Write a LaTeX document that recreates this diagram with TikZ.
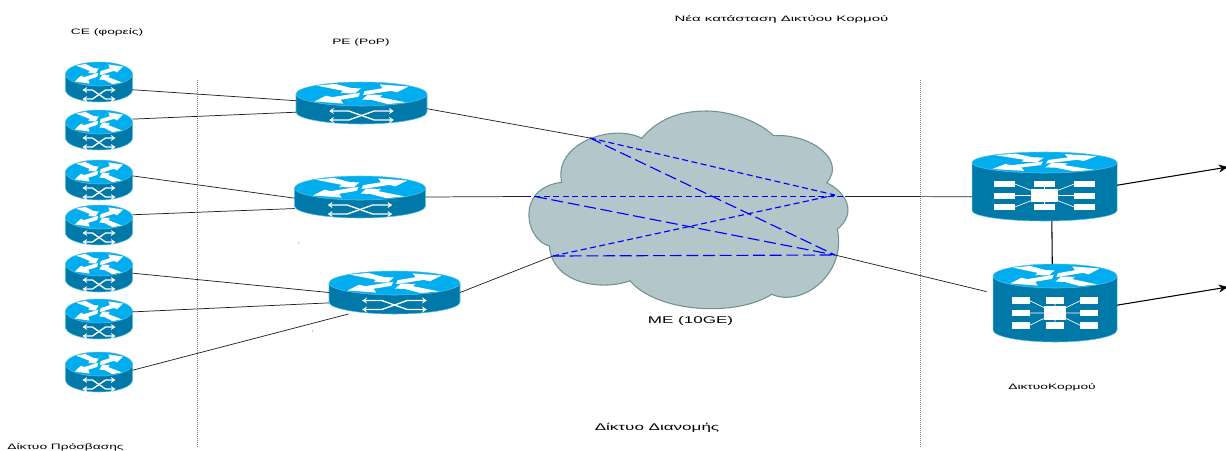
\documentclass[tikz,border=0pt]{standalone}
\usepackage{fontspec}
\setmainfont{Liberation Sans}
\usetikzlibrary{arrows.meta, positioning}
\definecolor{rtrtop}{HTML}{00AEEF}
\definecolor{rtrbody}{HTML}{0078A8}
\definecolor{rtredge}{HTML}{55BFE6}
\definecolor{nuage}{HTML}{B3C6CA}
\definecolor{nuagebord}{HTML}{6F9292}
\definecolor{lien}{HTML}{222222}
\definecolor{meshbleu}{HTML}{0000FF}

\tikzset{
  rtrbox/.style={inner sep=0pt, outer sep=0pt},
  lbl/.style={font=\fontsize{5.9pt}{7pt}\selectfont, text=black, inner sep=0pt, transform shape, xscale=1.75},
  lblgrand/.style={lbl, font=\fontsize{7.3pt}{9pt}\selectfont},
  access/.style={lien, line width=0.55pt},
  uplink/.style={black, line width=0.8pt, -{Stealth[length=7pt,width=6pt]}},
  meshcourt/.style={meshbleu, line width=0.85pt, dash pattern=on 4.5pt off 2.6pt},
  meshlong/.style={meshbleu, line width=0.85pt, dash pattern=on 9pt off 3.5pt},
  zone/.style={gray, line width=0.5pt, densely dotted},
  panneau/.style={white, line width=1pt, {Stealth[length=3.5pt,width=4.5pt]}-{Stealth[length=3.5pt,width=4.5pt]}},
}

% capot du routeur : ellipse + 4 fleches, #1,#2 centre, #3,#4 rayons
\newcommand{\rtrhead}[4]{
  \fill[rtrtop, draw=rtredge, line width=0.4pt] (#1,#2) ellipse [x radius=#3, y radius=#4];
  \begin{scope}[shift={(#1,#2)}, xscale=#3, yscale=-#4]
    \foreach \sg in {1,-1} {
      \begin{scope}[xscale=\sg, yscale=\sg]
        \fill[white] (-0.68,0.70) -- (-0.40,0.84) -- (-0.16,0.50) -- (-0.01,0.46) -- (-0.10,0.04)
          -- (-0.32,0.08) -- (-0.28,0.26) -- cycle;
        \fill[white] (-0.72,-0.62) -- (-0.54,-0.14) -- (-0.45,-0.26) -- (-0.02,0.10)
          -- (-0.05,-0.24) -- (-0.32,-0.48) -- (-0.28,-0.80) -- cycle;
      \end{scope}
    }
  \end{scope}
}

% routeur bas : #1 nom, #2 cx, #3 haut, #4 rayon x, #5 hauteur flanc
\newcommand{\edgerouter}[5]{
  \pgfmathsetmacro{\cy}{#3+12}
  \pgfmathsetmacro{\by}{\cy+#5}
  \node[rtrbox, minimum width={1.5pt*#4}, minimum height={0.75pt*(24+#5)}] (#1) at (#2,{\cy+#5/2}) {};
  \fill[rtrbody, draw=rtredge, line width=0.4pt] ({#2-#4},\cy) -- ({#2-#4},\by)
    arc[start angle=180, end angle=0, x radius=#4, y radius=12] -- ({#2+#4},\cy) -- cycle;
  \rtrhead{#2}{\cy}{#4}{12}
  \begin{scope}[shift={(#2,{\cy+#5/2+12.5})}, xscale=#4/33.5]
    \draw[panneau] (-16.5,-4.5) -- (-6.5,-4.5) -- (6.5,4.5) -- (16.5,4.5);
    \draw[panneau] (-16.5,4.5) -- (-6.5,4.5) -- (6.5,-4.5) -- (16.5,-4.5);
  \end{scope}
}

% routeur coeur : #1 nom, #2 cx, #3 haut, #4 rayon x, #5 rayon y, #6 flanc, #7 y panneau, #8 echelle y
\newcommand{\corerouter}[8]{
  \pgfmathsetmacro{\cy}{#3+#5}
  \pgfmathsetmacro{\by}{\cy+#6}
  \node[rtrbox, minimum width={1.5pt*#4}, minimum height={0.75pt*(2*#5+#6)}] (#1) at (#2,{\cy+#6/2}) {};
  \fill[rtrbody, draw=rtredge, line width=0.4pt] ({#2-#4},\cy) -- ({#2-#4},\by)
    arc[start angle=180, end angle=0, x radius=#4, y radius=#5] -- ({#2+#4},\cy) -- cycle;
  \rtrhead{#2}{\cy}{#4}{#5}
  \begin{scope}[shift={(#2,#7)}, xscale=#4/72.5, yscale=#8]
    \draw[white, line width=0.5pt] (-30,-11.6) -- (13,5) (-30,11.6) -- (13,-5) (30,-11.6) -- (-13,5) (30,11.6) -- (-13,-5)
      (-30,0) -- (30,0) (0,-11.6) -- (0,11.6);
    \fill[white] (-13.3,-6.3) rectangle (13.3,6.3);
    \foreach \yy in {-11.6,0,11.6} {
      \fill[white] (-50.3,{\yy-3}) rectangle (-29.7,{\yy+3});
      \fill[white] (29.7,{\yy-3}) rectangle (50.3,{\yy+3});
    }
    \fill[white] (-10.5,-14.6) rectangle (10.5,-8.6);
    \fill[white] (-10.5,8.6) rectangle (10.5,14.6);
  \end{scope}
}

\begin{document}
\begin{tikzpicture}[x=0.75pt, y=-0.75pt, >=Stealth]
  \useasboundingbox (0,0) rectangle (1226,450);

  % === ZONES ===
  \draw[zone] (197,80) -- (197,447);
  \draw[zone] (920,80) -- (920,447);

  % === NUAGE ME ===
  \fill[nuage, draw=nuagebord, line width=0.8pt] (641.7,138.3)
    .. controls (660,116.7) and (683,111) .. (707,111)
    .. controls (730,111) and (760,121.7) .. (773.3,135.7)
    .. controls (810,133) and (847,160) .. (826.7,182.7)
    .. controls (847,193) and (857,213) .. (837.3,229.3)
    .. controls (847,273) and (803,308) .. (771.7,294.3)
    .. controls (737,317) and (657,313) .. (630,280.7)
    .. controls (607,290) and (553,287) .. (549.3,246)
    .. controls (525,240) and (515,188) .. (561.7,182.3)
    .. controls (553,143) and (613,123) .. (641.7,138.3) -- cycle;
  \coordinate (meA) at (590,138);
  \coordinate (meB) at (525,196.5);
  \coordinate (meBb) at (535,196.5);
  \coordinate (meC) at (553,256);
  \coordinate (meD) at (845,196.5);
  \coordinate (meDb) at (835,195);
  \coordinate (meE) at (835,255);
  \coordinate (outA) at (1228,167);
  \coordinate (outB) at (1228,287);

  % === ROUTEURS ===
  \edgerouter{ce1}{99}{62}{33.5}{16}
  \edgerouter{ce2}{99}{110}{33.5}{16}
  \edgerouter{ce3}{99}{160}{33.5}{16}
  \edgerouter{ce4}{99}{205}{33.5}{16}
  \edgerouter{ce5}{99}{252}{33.5}{16}
  \edgerouter{ce6}{99}{299}{33.5}{16}
  \edgerouter{ce7}{99}{352}{33.5}{16}
  \edgerouter{pe1}{361.5}{82}{65.5}{18}
  \edgerouter{pe2}{360}{176}{65.5}{18}
  \edgerouter{pe3}{394.5}{271}{65.5}{19}
  \corerouter{core1}{1044.5}{152}{72.5}{10.5}{48}{195.5}{1}
  \corerouter{core2}{1055}{264}{62}{12}{54}{313}{1.08}

  % === LIENS ===
  \draw[access] (ce1.-13) -- (pe1.178);
  \draw[access] (ce2.18) -- (pe1.188);
  \draw[access] (ce3.7) -- (pe2.181);
  \draw[access] (ce4.17) -- (pe2.190);
  \draw[access] (ce5.-2) -- (pe3.180);
  \draw[access] (ce6.12) -- (pe3.189);
  \draw[access] (ce7.3) -- (pe3.205);
  \draw[access] (pe1.-5) -- (meA);
  \draw[access] (pe2.east) -- (meB);
  \draw[access] (pe3.east) -- (meC);
  \draw[access] (meD) -- (core1.188);
  \draw[access, shorten >=5pt] (meE) -- (core2.171);
  \draw[black, line width=0.8pt] (core1.-78) -- (core2.94);
  \draw[uplink] (core1.1) -- (outA);
  \draw[uplink] (core2.-2) -- (outB);

  % === MAILLAGE ===
  \draw[meshcourt] (meA) -- (meDb);
  \draw[meshlong] (meA) -- (meE);
  \draw[meshcourt] (meB) -- (meD);
  \draw[meshlong] (meBb) -- (meE);
  \draw[meshcourt] (meC) -- (meDb);
  \draw[meshlong] (meC) -- (meE);

  % === TEXTES ===
  \node[lbl, xscale=1.09] (titre) at (781.5,19) {Νέα κατάσταση Δικτύου Κορμού};
  \node[lbl] (lblce) at (107,32) {CE (φορείς)};
  \node[lbl] (lblpe) at (361,42) {PE (PoP)};
  \node[lblgrand] (lblme) at (690.5,321) {ME (10GE)};
  \node[lblgrand] (lbldist) at (657,428) {Δίκτυο Διανομής};
  \node[lbl] (lblcore) at (1052,387) {ΔικτυοΚορμού};
  \node[lbl] (lblacc) at (65.5,447) {Δίκτυο Πρόσβασης};
  \node[lbl, font=\fontsize{4pt}{5pt}\selectfont, xscale=0.57] (tickA) at (299,245) {'};
  \node[lbl, font=\fontsize{4pt}{5pt}\selectfont, xscale=0.57] (tickB) at (313,333) {'};
\end{tikzpicture}
\end{document}
